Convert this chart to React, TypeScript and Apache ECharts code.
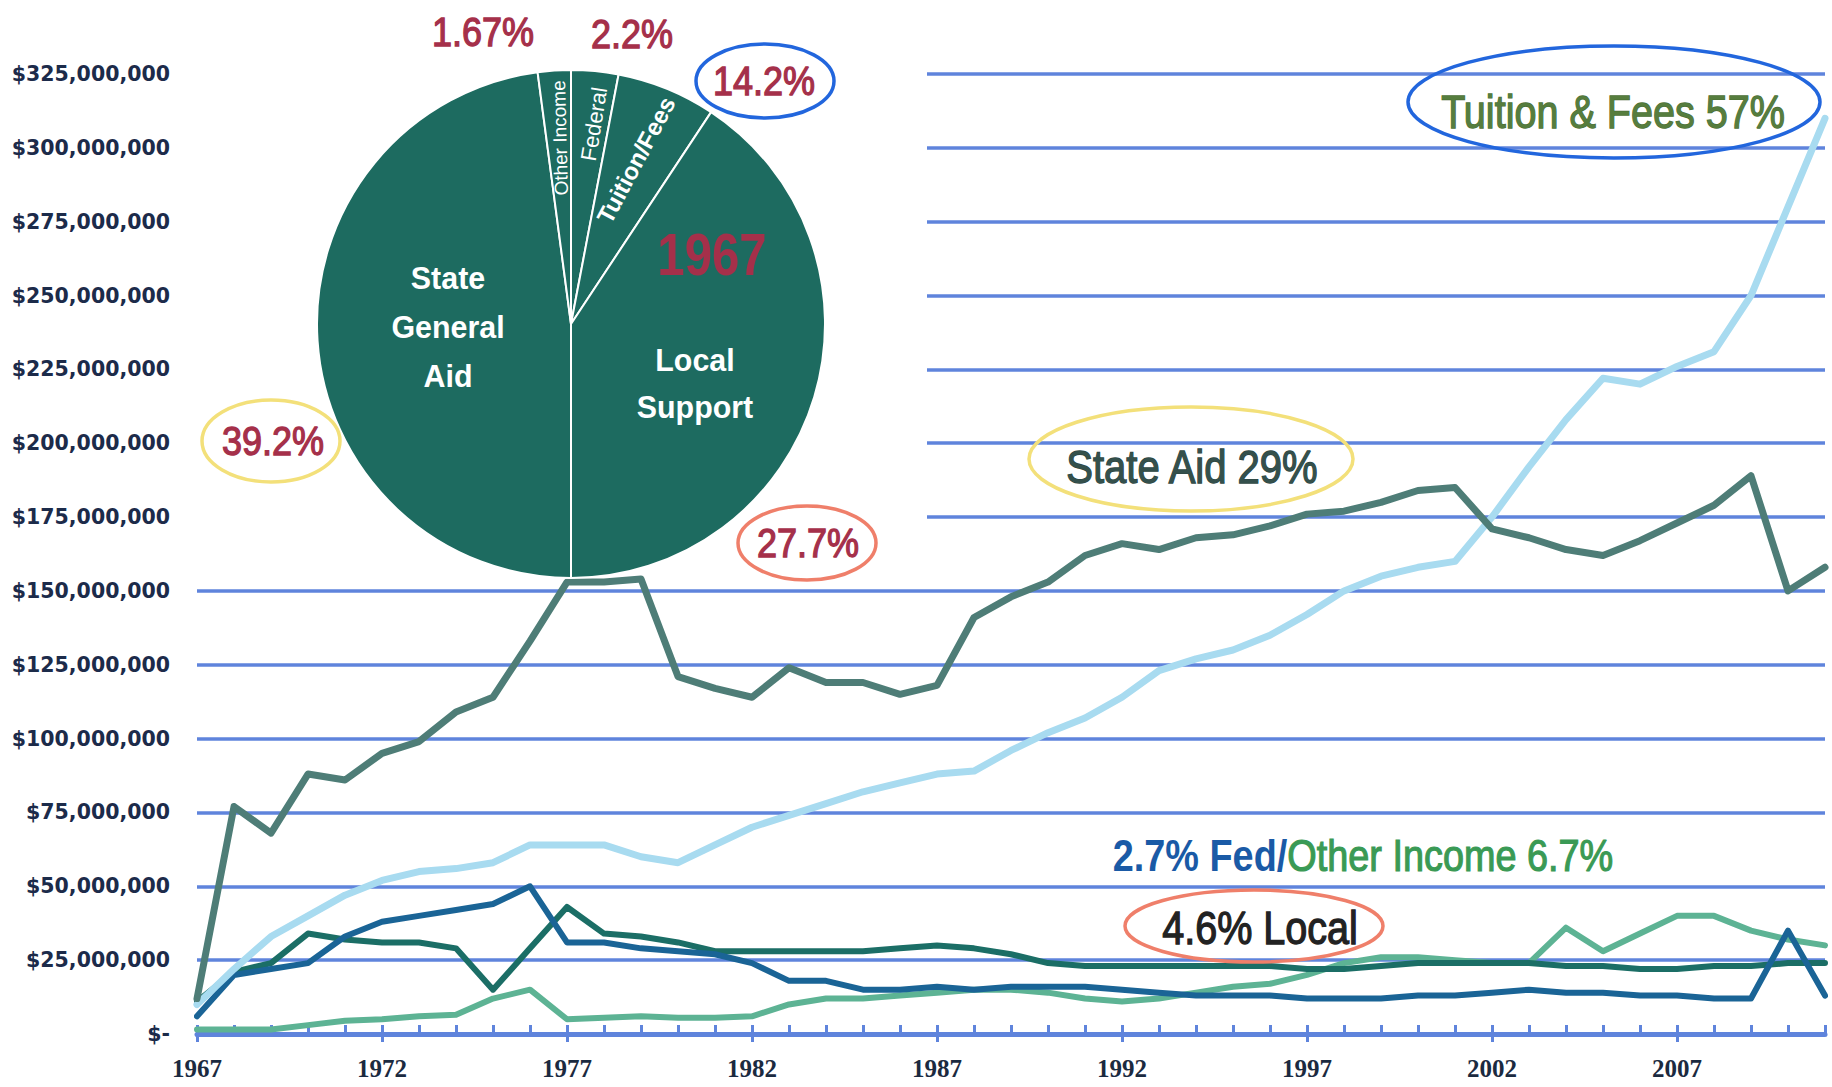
import React, { useEffect, useRef } from "react";
import * as echarts from "echarts";

// ---------- data (values in millions of dollars) ----------
const years = [
  "1967", "1968", "1969", "1970", "1971", "1972", "1973", "1974", "1975", "1976",
  "1977", "1978", "1979", "1980", "1981", "1982", "1983", "1984", "1985", "1986",
  "1987", "1988", "1989", "1990", "1991", "1992", "1993", "1994", "1995", "1996",
  "1997", "1998", "1999", "2000", "2001", "2002", "2003", "2004", "2005", "2006",
  "2007", "2008", "2009", "2010", "2011",
];

const stateAid = [
  12, 77, 68, 88, 86, 95, 99, 109, 114, 133,
  153, 153, 154, 121, 117, 114, 124, 119, 119, 115,
  118, 141, 148, 153, 162, 166, 164, 168, 169, 172,
  176, 177, 180, 184, 185, 171, 168, 164, 162, 167,
  173, 179, 189, 150, 158,
];

const tuition = [
  10, 22, 33, 40, 47, 52, 55, 56, 58, 64,
  64, 64, 60, 58, 64, 70, 74, 78, 82, 85,
  88, 89, 96, 102, 107, 114, 123, 127, 130, 135,
  142, 150, 155, 158, 160, 175, 192, 208, 222, 220,
  226, 231, 250, 280, 310,
];

const federal = [
  6, 20, 22, 24, 33, 38, 40, 42, 44, 50,
  31, 31, 29, 28, 27, 24, 18, 18, 15, 15,
  16, 15, 16, 16, 16, 15, 14, 13, 13, 13,
  12, 12, 12, 13, 13, 14, 15, 14, 14, 13,
  13, 12, 12, 35, 13,
];

const local = [
  11, 21, 24, 34, 32, 31, 31, 29, 15, 29,
  43, 34, 33, 31, 28, 28, 28, 28, 28, 29,
  30, 29, 27, 24, 23, 23, 23, 23, 23, 23,
  22, 22, 23, 24, 24, 24, 24, 23, 23, 22,
  22, 23, 23, 24, 24,
];

const otherIncome = [
  1.5, 1.5, 1.5, 3, 4.5, 5, 6, 6.5, 12, 15,
  5, 5.5, 6, 5.5, 5.5, 6, 10, 12, 12, 13,
  14, 15, 15, 14, 12, 11, 12, 14, 16, 17,
  20, 24, 26, 26, 25, 24, 24, 36, 28, 34,
  40, 40, 35, 32, 30,
];

// 1967 pie, clockwise from 12 o'clock (shares as drawn)
const pieNames = ["Federal", "Tuition/Fees", "Local Support", "State General Aid", "Other Income"];
const pieShares = [3.0, 6.3, 40.7, 47.9, 2.1];

const yTicksMax = 325;
const yTickStep = 25;

const BLUE = "#5f84dc";
const RED = "#a5304a";
const SANS = "'Liberation Sans', Arial, sans-serif";

export default function App() {
  const ref = useRef<HTMLDivElement>(null);

  useEffect(() => {
    if (!ref.current) return;
    const chart = echarts.init(ref.current, undefined, { renderer: "svg" });

    const lineSeries = (name: string, data: number[], color: string, width: number) => ({
      name,
      type: "line",
      data,
      xAxisIndex: 0,
      yAxisIndex: 0,
      showSymbol: false,
      symbol: "none",
      z: 3,
      silent: true,
      lineStyle: { color, width, join: "round", cap: "round" },
      itemStyle: { color },
    });

    const narrowText = (
      text: string,
      x: number,
      y: number,
      fontSize: number,
      fill: string,
      scaleX: number,
      fontWeight: string = "normal",
      extra: any = {}
    ) => ({
      type: "text",
      x,
      y,
      scaleX,
      z: 30,
      style: {
        text,
        fill,
        fontSize,
        fontWeight,
        fontFamily: SANS,
        align: "center",
        verticalAlign: "middle",
        ...extra,
      },
    });

    const medium = (color: string) => ({ stroke: color, lineWidth: 1.3 });

    const ellipse = (cx: number, cy: number, rx: number, ry: number, stroke: string) => ({
      type: "ellipse",
      z: 29,
      shape: { cx, cy, rx, ry },
      style: { fill: "none", stroke, lineWidth: 3.5 },
    });

    const option: any = {
      animation: false,
      backgroundColor: "#ffffff",
      grid: { left: 197, right: 7, top: 74, bottom: 53, containLabel: false },
      xAxis: [
        {
          type: "category",
          data: years,
          boundaryGap: false,
          axisLine: { show: true, lineStyle: { color: BLUE, width: 5 } },
          axisTick: {
            show: true,
            inside: true,
            interval: 0,
            length: 9,
            lineStyle: { color: BLUE, width: 3 },
          },
          axisLabel: {
            interval: 4,
            margin: 22,
            fontFamily: "'Liberation Serif', serif",
            fontWeight: "bold",
            fontSize: 25,
            color: "#1b2a40",
          },
          splitLine: { show: false },
        },
        {
          type: "category",
          data: years,
          boundaryGap: false,
          position: "bottom",
          axisLine: { show: false },
          axisTick: {
            show: true,
            inside: false,
            interval: 4,
            length: 8,
            lineStyle: { color: BLUE, width: 3 },
          },
          axisLabel: { show: false },
          splitLine: { show: false },
        },
      ],
      yAxis: {
        type: "value",
        min: 0,
        max: yTicksMax,
        interval: yTickStep,
        axisLine: { show: false },
        axisTick: { show: false },
        splitLine: { show: true, lineStyle: { color: BLUE, width: 3.5 } },
        axisLabel: {
          margin: 27,
          formatter: (v: number) => (v === 0 ? "$-" : "$" + v + ",000,000"),
          fontFamily: "'DejaVu Sans', sans-serif",
          fontWeight: "bold",
          fontSize: 20.5,
          color: "#1c2b4a",
        },
      },
      series: [
        lineSeries("Other Income", otherIncome, "#5db394", 6),
        lineSeries("Local", local, "#1b6e66", 6),
        lineSeries("Federal", federal, "#1a6496", 6),
        lineSeries("Tuition & Fees", tuition, "#a8dbf0", 7),
        lineSeries("State Aid", stateAid, "#4e7d77", 7),
        {
          name: "1967",
          type: "pie",
          center: [571, 324],
          radius: 254,
          startAngle: 90,
          clockwise: true,
          z: 10,
          silent: true,
          label: { show: false },
          labelLine: { show: false },
          emphasis: { disabled: true },
          itemStyle: { color: "#1d6b60", borderColor: "#ffffff", borderWidth: 2 },
          data: pieNames.map((n, i) => ({ name: n, value: pieShares[i] })),
        },
      ],
      graphic: {
        elements: [
          {
            type: "rect",
            z: 1,
            shape: { x: 192, y: 58, width: 735, height: 502 },
            style: { fill: "#ffffff" },
          },
          // pie texts
          narrowText("State\nGeneral\nAid", 448, 327, 32, "#ffffff", 0.95, "bold", { lineHeight: 49 }),
          narrowText("Local\nSupport", 695, 384, 32, "#ffffff", 0.95, "bold", { lineHeight: 47 }),
          narrowText("1967", 712, 254, 60, RED, 0.82, "bold"),
          {
            type: "text",
            x: 560,
            y: 138,
            rotation: (91.5 * Math.PI) / 180,
            z: 30,
            style: {
              text: "Other Income",
              fill: "#ffffff",
              fontSize: 19,
              fontFamily: SANS,
              align: "center",
              verticalAlign: "middle",
            },
          },
          {
            type: "text",
            x: 594,
            y: 124,
            rotation: (81 * Math.PI) / 180,
            z: 30,
            style: {
              text: "Federal",
              fill: "#ffffff",
              fontSize: 22,
              fontFamily: SANS,
              align: "center",
              verticalAlign: "middle",
            },
          },
          {
            type: "text",
            x: 636,
            y: 160,
            rotation: (62 * Math.PI) / 180,
            z: 30,
            style: {
              text: "Tuition/Fees",
              fill: "#ffffff",
              fontSize: 24,
              fontWeight: "bold",
              fontFamily: SANS,
              align: "center",
              verticalAlign: "middle",
            },
          },
          // outer percentages
          narrowText("1.67%", 483, 32, 40, RED, 0.9, "normal", medium(RED)),
          narrowText("2.2%", 632, 34, 40, RED, 0.9, "normal", medium(RED)),
          ellipse(765, 81, 69, 37, "#2266dd"),
          narrowText("14.2%", 764, 81, 40, RED, 0.9, "normal", medium(RED)),
          ellipse(271, 441, 69, 41, "#f3e07a"),
          narrowText("39.2%", 273, 441, 40, RED, 0.9, "normal", medium(RED)),
          ellipse(807, 543, 69, 37, "#ef7f6a"),
          narrowText("27.7%", 808, 543, 40, RED, 0.9, "normal", medium(RED)),
          // line annotations
          ellipse(1614, 102, 206, 56, "#2266dd"),
          narrowText("Tuition & Fees 57%", 1613, 112, 46, "#567d3e", 0.86, "normal", medium("#4a6e34")),
          ellipse(1191, 459, 162, 52, "#f3e07a"),
          narrowText("State Aid 29%", 1192, 467, 46, "#34504c", 0.87, "normal", medium("#2c4440")),
          {
            type: "text",
            x: 1363,
            y: 856,
            scaleX: 0.86,
            z: 30,
            style: {
              text: "{a|2.7% Fed/}{b|Other Income 6.7%}",
              fontSize: 44,
              fontFamily: SANS,
              align: "center",
              verticalAlign: "middle",
              rich: {
                a: { fill: "#1a5aa6", fontSize: 44, fontWeight: "bold", fontFamily: SANS },
                b: { fill: "#3a9a55", fontSize: 44, fontFamily: SANS, stroke: "#3a9a55", lineWidth: 1.2 },
              },
            },
          },
          ellipse(1254, 926, 129, 36, "#ef7f6a"),
          narrowText("4.6% Local", 1260, 928, 46, "#222222", 0.86, "normal", medium("#222222")),
        ],
      },
    };

    chart.setOption(option);
    return () => chart.dispose();
  }, []);

  return (
    <div
      ref={ref}
      style={{ position: "fixed", left: 0, top: 0, width: 1832, height: 1087, background: "#fff" }}
    />
  );
}
